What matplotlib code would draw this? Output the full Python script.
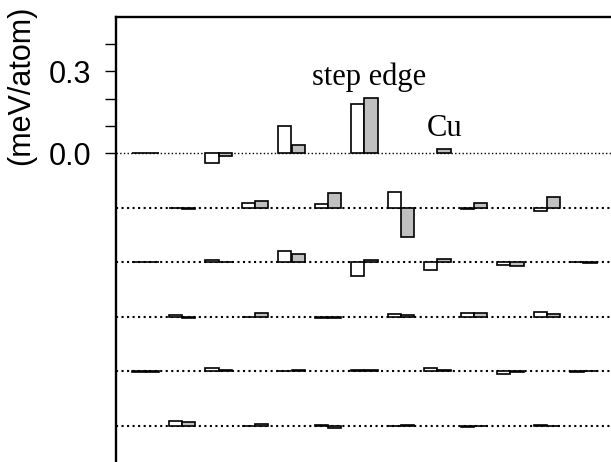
import numpy as np
import matplotlib
matplotlib.use("Agg")
import matplotlib.pyplot as plt

# ---- data (meV/atom) ----
row_offsets = [0.0, -0.2, -0.4, -0.6, -0.8, -1.0]
even_x = [0, 1, 2, 3, 4, 5, 6]
odd_x = [0.5, 1.5, 2.5, 3.5, 4.5, 5.5]

white_r0 = [0.0, -0.037, 0.099, 0.181, np.nan, np.nan, np.nan]
gray_r0 = [0.0, -0.012, 0.028, 0.202, 0.016, np.nan, np.nan]

white_r1 = [0.0, 0.018, 0.013, 0.057, -0.005, -0.012]
gray_r1 = [-0.004, 0.023, 0.053, -0.109, 0.015, 0.039]

white_r2 = [0.0, 0.006, 0.041, -0.050, -0.029, -0.011, 0.002]
gray_r2 = [0.0, 0.0, 0.029, 0.006, 0.012, -0.013, -0.004]

white_r3 = [0.005, 0.0, -0.004, 0.010, 0.012, 0.016]
gray_r3 = [-0.004, 0.012, -0.005, 0.005, 0.012, 0.011]

white_r4 = [-0.003, 0.012, 0.0, 0.003, 0.011, -0.010, -0.003]
gray_r4 = [-0.003, 0.005, 0.003, 0.003, 0.006, -0.003, 0.0]

white_r5 = [0.016, 0.0, 0.004, 0.0, -0.006, 0.003]
gray_r5 = [0.012, 0.006, -0.007, 0.004, 0.0, 0.0]

rows = [
    (even_x, white_r0, gray_r0),
    (odd_x, white_r1, gray_r1),
    (even_x, white_r2, gray_r2),
    (odd_x, white_r3, gray_r3),
    (even_x, white_r4, gray_r4),
    (odd_x, white_r5, gray_r5),
]

yticks = [0.0, 0.1, 0.2, 0.3, 0.4]
yticklabels = ["0.0", "", "", "0.3", ""]

# ---- figure ----
W, H = 611, 462
fig = plt.figure(figsize=(W / 100, H / 100), dpi=100)
plt.rcParams['font.family'] = ['Liberation Sans', 'DejaVu Sans']

px_per_unit_y = 272.7
px_per_unit_x = 73.0
y_top, y_bot = 0.5, -1.2
x_left = (116 - 145.5) / px_per_unit_x
x_right = 6.6
top_px = 16.7
ax_h_px = (y_top - y_bot) * px_per_unit_y
ax_w_px = (x_right - x_left) * px_per_unit_x
ax = fig.add_axes([116 / W, 1 - (top_px + ax_h_px) / H, ax_w_px / W, ax_h_px / H])
ax.set_xlim(x_left, x_right)
ax.set_ylim(y_bot, y_top)

bw = 0.182
for i, (xs, wv, gv) in enumerate(rows):
    off = row_offsets[i]
    ax.axhline(off, color='black', linestyle=':', linewidth=1.0 if i == 0 else 1.5, zorder=1)
    xs = np.array(xs, dtype=float)
    wv = np.array(wv, dtype=float)
    gv = np.array(gv, dtype=float)
    mw = ~np.isnan(wv)
    mg = ~np.isnan(gv)
    ax.bar(xs[mw] - bw / 2, wv[mw], width=bw, bottom=off, color='white',
           edgecolor='black', linewidth=1.2, zorder=3)
    ax.bar(xs[mg] + bw / 2, gv[mg], width=bw, bottom=off, color='#c0c0c0',
           edgecolor='black', linewidth=1.2, zorder=3)

ax.text(3.06, 0.25, "step edge", family=['Liberation Serif', 'DejaVu Serif'],
        fontsize=22, ha='center', va='baseline')
ax.text(4.09, 0.061, "Cu", family=['Liberation Serif', 'DejaVu Serif'],
        fontsize=22, ha='center', va='baseline')

for s in ['right', 'bottom']:
    ax.spines[s].set_visible(False)
for s in ['left', 'top']:
    ax.spines[s].set_linewidth(1.7)

ax.set_xticks([])
ax.set_yticks(yticks)
ax.set_yticklabels(yticklabels, fontsize=22)
ax.tick_params(axis='y', direction='out', length=8, width=1.0, pad=10)

fig.text(21 / W, 1 - 85.5 / H, "(meV/atom)", rotation=90, fontsize=22,
         ha='center', va='center')

fig.savefig("out.png", dpi=100)
